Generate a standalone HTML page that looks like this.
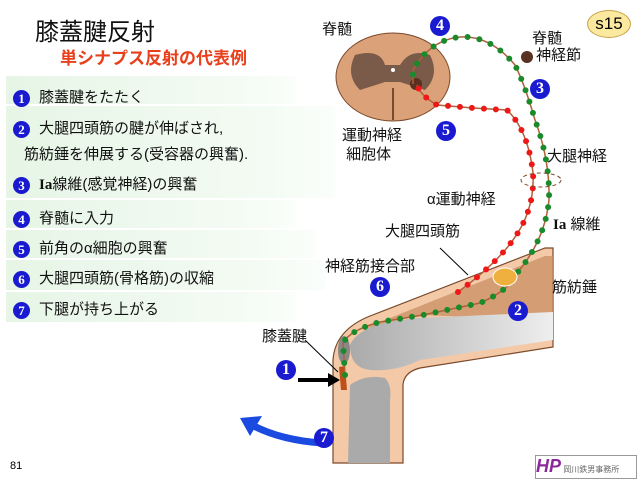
<!DOCTYPE html>
<html><head><meta charset="utf-8"><style>
body{margin:0;width:640px;height:480px;background:#fff;overflow:hidden;position:relative;font-family:"Liberation Sans","Noto Sans CJK JP",sans-serif}
.t{position:absolute;white-space:nowrap}
.g{position:absolute;background:linear-gradient(90deg,#e6f5e6,#f4fbf4 80%,#fbfefb)}
.n{display:inline-block;width:17px;height:17px;border-radius:50%;background:#1a1ad0;color:#fff;font:bold 13px/17px "Liberation Serif",serif;text-align:center;vertical-align:middle;margin-right:9px}
.b{position:absolute;width:20px;height:20px;border-radius:50%;background:#1a1ad0;color:#fff;font:bold 16px/20px "Liberation Serif",serif;text-align:center}
.l{font-size:15px;color:#111}
</style></head><body>
<div class="g" style="left:6px;top:76px;width:290px;height:28px"></div>
<div class="g" style="left:6px;top:106px;width:330px;height:92px"></div>
<div class="g" style="left:6px;top:200px;width:290px;height:28px"></div>
<div class="g" style="left:6px;top:230px;width:310px;height:28px"></div>
<div class="g" style="left:6px;top:260px;width:320px;height:30px"></div>
<div class="g" style="left:6px;top:292px;width:290px;height:30px"></div>
<div class="t" style="left:35px;top:12px;font-size:24px;color:#111">膝蓋腱反射</div>
<div class="t" style="left:60px;top:44px;font-size:17px;font-weight:bold;color:#e8401c">単シナプス反射の代表例</div>
<div class="t l" style="left:13px;top:86px"><span class="n">1</span>膝蓋腱をたたく</div>
<div class="t l" style="left:13px;top:117px"><span class="n">2</span>大腿四頭筋の腱が伸ばされ,</div>
<div class="t l" style="left:24px;top:143px">筋紡錘を伸展する(受容器の興奮).</div>
<div class="t l" style="left:13px;top:173px"><span class="n">3</span><b style="font-family:'Liberation Serif'">Ia</b>線維(感覚神経)の興奮</div>
<div class="t l" style="left:13px;top:207px"><span class="n">4</span>脊髄に入力</div>
<div class="t l" style="left:13px;top:237px"><span class="n">5</span>前角のα細胞の興奮</div>
<div class="t l" style="left:13px;top:267px"><span class="n">6</span>大腿四頭筋(骨格筋)の収縮</div>
<div class="t l" style="left:13px;top:298px"><span class="n">7</span>下腿が持ち上がる</div>
<div class="t" style="left:10px;top:460px;font-size:11px">81</div>
<div class="t" style="left:587px;top:10px;width:42px;height:26px;border-radius:50%;background:#fbe9a0;border:1px solid #c9a14a;font-size:17px;text-align:center;line-height:26px">s15</div>
<svg width="640" height="480" style="position:absolute;left:0;top:0">
<defs><linearGradient id="fb" x1="0" x2="1"><stop offset="0" stop-color="#aaa"/><stop offset="1" stop-color="#eee"/></linearGradient></defs>
<path d="M333,463 L333,360 Q335,330 370,316 L545,248 L553,248 L553,347 L420,368 Q404,372 403,385 L403,463 Z" fill="#f3c9a8" stroke="#7a4a2a" stroke-width="1.2"/>
<path d="M360,330 L545,256 L553,256 L553,320 L420,315 Z" fill="#c98d61" opacity=".75"/>
<path d="M350,345 Q360,322 420,318 L553,312 L553,340 L420,360 Q395,372 370,370 Q350,368 350,345Z" fill="url(#fb)"/>
<path d="M350,385 Q365,374 385,378 Q392,385 390,400 L390,463 L348,463 Z" fill="#aaa"/>
<ellipse cx="344" cy="350" rx="6" ry="14" fill="#888"/>
<path d="M339,367 L345,366 L347,390 L341,390 Z" fill="#c0501a"/>
<ellipse cx="393" cy="77" rx="57" ry="44" fill="#dba27a" stroke="#7a4a2a"/>
<path d="M355,55 Q380,48 385,65 L400,65 Q410,48 430,55 Q440,75 425,90 L400,82 L385,82 L360,90 Q345,75 355,55Z" fill="#7a5a48"/>
<line x1="393" y1="88" x2="393" y2="120" stroke="#7a4a2a" stroke-width="2"/>
<circle cx="393" cy="70" r="2" fill="#fff"/>
<circle cx="416" cy="84" r="6" fill="#5a3020"/>
<circle cx="527" cy="57" r="6" fill="#5a3020"/>
<g fill="none" stroke="#b0603a" stroke-width="1.5">
<path d="M345,375 L343,343 Q350,330 380,322 L423,315 L480,303 Q510,290 517,273 Q545,240 549,200 Q550,160 535,120 Q525,85 515,65 Q490,35 460,37 Q430,40 413,70 L413,84"/>
<path d="M458,292 Q495,265 513,240 Q535,210 533,173 Q528,130 507,110 L473,108 L437,105 Q420,95 417,85"/>
</g>
<path d="M345,375 L343,343 Q350,330 380,322 L423,315 L480,303 Q510,290 517,273 Q545,240 549,200 Q550,160 535,120 Q525,85 515,65 Q490,35 460,37 Q430,40 413,70 L413,84" fill="none" stroke="#1a8a2a" stroke-width="6" stroke-linecap="round" stroke-dasharray="0 12"/>
<path d="M458,292 Q495,265 513,240 Q535,210 533,173 Q528,130 507,110 L473,108 L437,105 Q420,95 417,85" fill="none" stroke="#ee1818" stroke-width="6" stroke-linecap="round" stroke-dasharray="0 12"/>
<ellipse cx="505" cy="277" rx="12" ry="9" fill="#f0b040" stroke="#fff" stroke-width="1"/>
<ellipse cx="541" cy="180" rx="20" ry="7" fill="none" stroke="#7a4a2a" stroke-dasharray="4 3"/>
<line x1="440" y1="248" x2="468" y2="275" stroke="#000"/>
<line x1="305" y1="340" x2="338" y2="372" stroke="#000"/>
<path d="M298,380 L330,380" stroke="#000" stroke-width="4"/><path d="M328,373 L340,380 L328,387Z"/>
<path d="M322,443 Q280,440 252,425" fill="none" stroke="#1a4ae0" stroke-width="7"/><path d="M240,418 L262,416 L250,436Z" fill="#1a4ae0"/>
</svg>
<div class="t l" style="left:322px;top:18px">脊髄</div>
<div class="t l" style="left:532px;top:30px;line-height:17px">脊髄<br>&nbsp;神経節</div>
<div class="t l" style="left:342px;top:126px;line-height:19px">運動神経<br>&nbsp;細胞体</div>
<div class="t l" style="left:547px;top:145px">大腿神経</div>
<div class="t l" style="left:427px;top:188px">α運動神経</div>
<div class="t l" style="left:553px;top:213px"><b style="font-family:'Liberation Serif'">Ia</b> 線維</div>
<div class="t l" style="left:385px;top:220px">大腿四頭筋</div>
<div class="t l" style="left:325px;top:255px">神経筋接合部</div>
<div class="t l" style="left:552px;top:276px">筋紡錘</div>
<div class="t l" style="left:262px;top:325px">膝蓋腱</div>
<div class="b" style="left:430px;top:16px">4</div>
<div class="b" style="left:530px;top:79px">3</div>
<div class="b" style="left:436px;top:121px">5</div>
<div class="b" style="left:370px;top:277px">6</div>
<div class="b" style="left:508px;top:301px">2</div>
<div class="b" style="left:276px;top:360px">1</div>
<div class="b" style="left:314px;top:428px">7</div>
<div class="t" style="left:535px;top:455px;width:100px;height:22px;border:1px solid #999;font-size:8px;color:#666"><b style="color:#8a2a9a;font-size:18px;font-style:italic">HP</b> 岡川鉄男事務所</div>
</body></html>
